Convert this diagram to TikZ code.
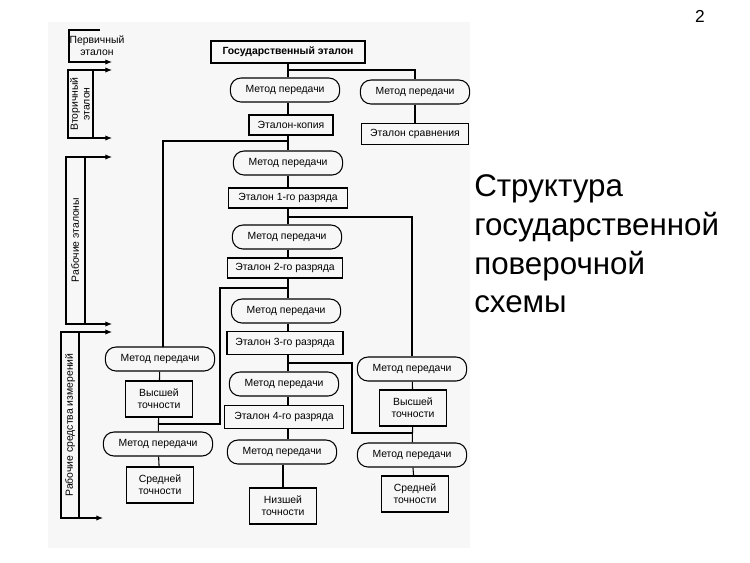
\documentclass[tikz,border=0pt]{standalone}
\usepackage{fontspec}
\setmainfont{Liberation Sans}
\usetikzlibrary{arrows.meta}
\begin{document}
\begin{tikzpicture}[x=0.75pt,y=-0.75pt,
  every node/.style={font=\fontsize{7.8}{8.8}\selectfont, inner sep=0pt, align=center},
  mp/.style={draw, line width=0.8pt, rounded corners=8pt, minimum width=82pt, minimum height=18pt},
  et/.style={draw, line width=0.8pt, minimum height=15pt},
  tk/.style={draw, line width=0.8pt, minimum width=50pt, minimum height=27pt},
  ln/.style={line width=0.8pt},
  ar/.style={line width=0.8pt, -{Latex[length=5pt,width=4pt]}}]
\useasboundingbox (0,0) rectangle (750,562);
\fill[gray!6] (48,22) rectangle (470,548);
\node[font=\fontsize{13}{13}\selectfont] (pg) at (700,16) {2};
\node[anchor=west, align=left, font=\fontsize{23.5}{29}\selectfont] (title) at (474,244) {Структура\\государственной\\поверочной\\схемы};
% main column
\node[draw, line width=1.6pt, minimum width=116pt, minimum height=16pt, font=\fontsize{7.8}{8.8}\selectfont\bfseries] (gos) at (288,52) {Государственный эталон};
\node[mp] (m1) at (285,90) {Метод передачи};
\node[mp] (mr) at (415,92) {Метод передачи};
\node[et, minimum width=63pt] (kop) at (291,125) {Эталон-копия};
\node[et, minimum width=80pt, minimum height=16pt] (sr) at (415,134) {Эталон сравнения};
\node[mp] (m2) at (288,163) {Метод передачи};
\node[et, minimum width=89pt] (e1) at (288,198) {Эталон 1-го разряда};
\node[mp] (m3) at (287,237) {Метод передачи};
\node[et, minimum width=86pt] (e2) at (285,268) {Эталон 2-го разряда};
\node[mp] (m4) at (286,311) {Метод передачи};
\node[et, minimum width=87pt, minimum height=17pt] (e3) at (285,343) {Эталон 3-го разряда};
\node[mp] (m5) at (284,384) {Метод передачи};
\node[et, minimum width=89pt, minimum height=17pt] (e4) at (284,417) {Эталон 4-го разряда};
\node[mp] (m6) at (282,452) {Метод передачи};
\node[tk] (nz) at (283,506) {Низшей\\точности};
% left column
\node[mp] (l1) at (160,359) {Метод передачи};
\node[tk] (lv) at (159,399) {Высшей\\точности};
\node[mp] (l2) at (158,444) {Метод передачи};
\node[tk] (ls) at (160,485) {Средней\\точности};
% right column
\node[mp] (r1) at (412,369) {Метод передачи};
\node[tk] (rv) at (413,408) {Высшей\\точности};
\node[mp] (r2) at (412,455) {Метод передачи};
\node[tk] (rs) at (415,494) {Средней\\точности};
% connectors main
\coordinate (j0) at (288,70);
\draw[ln] (gos.south -| j0) -- (m1.north -| j0);
\draw[ln] (j0) -| (mr.north);
\draw[ln] (mr) -- (sr);
\draw[ln] (m1.south -| j0) -- (kop.north -| j0);
\draw[ln] (kop.south -| j0) -- (m2.north -| j0);
\draw[ln] (m2.south -| j0) -- (e1.north -| j0);
\draw[ln] (e1.south -| j0) -- (m3.north -| j0);
\draw[ln] (m3.south -| j0) -- (e2.north -| j0);
\draw[ln] (e2.south -| j0) -- (m4.north -| j0);
\draw[ln] (m4.south -| j0) -- (e3.north -| j0);
\draw[ln] (e3.south -| j0) -- (m5.north -| j0);
\draw[ln] (m5.south -| j0) -- (e4.north -| j0);
\draw[ln] (e4.south -| j0) -- (m6.north -| j0);
\draw[ln] (m6.south -| nz) -- (nz.north);
% branches
\coordinate (b1) at (288,141);
\draw[ln] (b1) -| (163,347) -- (l1.north -| 163,0);
\coordinate (b2) at (288,217);
\draw[ln] (b2) -| (r1.north);
\coordinate (b3) at (288,288);
\coordinate (b3l) at (158,424);
\draw[ln] (b3) -| (220,424) -- (b3l);
\coordinate (b4) at (288,363);
\coordinate (b4r) at (413,433);
\draw[ln] (b4) -| (352,433) -- (b4r);
% side columns
\draw[ln] (l1) -- (lv);
\draw[ln] (lv) -- (l2);
\draw[ln] (l2) -- (ls);
\draw[ln] (r1) -- (rv);
\draw[ln] (rv) -- (r2);
\draw[ln] (r2) -- (rs);
% brackets
\coordinate (a1) at (112,62);
\draw[ar] (100,30) -- (69,30) -- (69,62) -- (a1);
\node (t1) at (97,46) {Первичный\\эталон};
\coordinate (a2) at (112,70);
\coordinate (a3) at (112,138);
\draw[ln] (68,70) rectangle (93,138);
\draw[ar] (93,70) -- (a2);
\draw[ar] (93,138) -- (a3);
\node[rotate=90] (t2) at (80,104) {Вторичный\\эталон};
\coordinate (a4) at (112,157);
\coordinate (a5) at (112,324);
\draw[ln] (85,157) -- (66,157) -- (66,324) -- (85,324);
\draw[ln] (85,157) -- (85,324);
\draw[ar] (85,157) -- (a4);
\draw[ar] (85,324) -- (a5);
\node[rotate=90] (t3) at (75,240) {Рабочие эталоны};
\coordinate (a6) at (112,332);
\coordinate (a7) at (103,518);
\draw[ln] (79,332) -- (61,332) -- (61,518) -- (79,518) -- (79,332);
\draw[ar] (79,332) -- (a6);
\draw[ar] (79,518) -- (a7);
\node[rotate=90] (t4) at (70,425) {Рабочие средства измерений};
\end{tikzpicture}
\end{document}
